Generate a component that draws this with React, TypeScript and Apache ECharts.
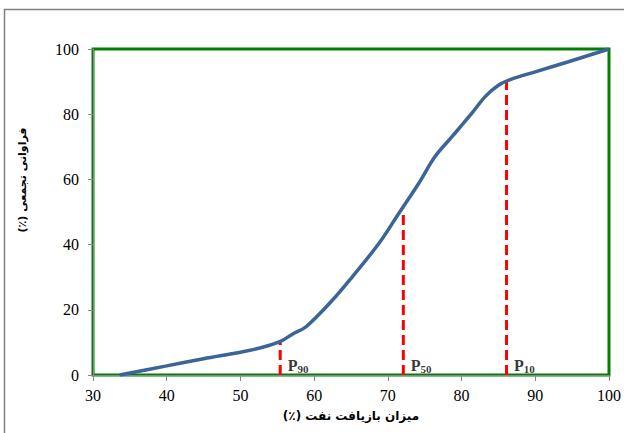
import React, { useEffect, useRef } from "react";
import * as echarts from "echarts";

const recoveryX = [33.6, 40, 45, 50, 53, 55.5, 57.1, 58.9, 62.5, 65.2, 68.8, 71.5, 74.2, 76.4, 78.7, 81.4, 83.2, 85.0, 86.6, 90, 94.5, 100];
const cumFreqY = [0, 2.8, 5, 7, 8.5, 10.4, 12.6, 14.8, 23, 30.2, 40.4, 49.6, 58.8, 67, 73.1, 80.3, 85.4, 88.9, 90.6, 93, 96.1, 100];

const pNames = ["90", "50", "10"];
const pX = [55.4, 72.1, 86.1];
const pTop = [9.9, 49.6, 90.2];

const xTicks = { min: 30, max: 100, interval: 10 };
const yTicks = { min: 0, max: 100, interval: 20 };

const xName = "\u200Fمیزان بازیافت نفت (٪)\u200F";
const yName = "\u200Fفراوانی تجمعی (٪)\u200F";

export default function App() {
  const ref = useRef<HTMLDivElement>(null);
  useEffect(() => {
    if (!ref.current) return;
    const chart = echarts.init(ref.current, null, { renderer: "svg" });
    const curve = recoveryX.map((x, i) => [x, cumFreqY[i]]);
    const dashSeries = pX.map((x, i) => ({
      type: "line",
      data: [[x, 0], [x, pTop[i]]],
      symbol: "none",
      silent: true,
      z: 3,
      lineStyle: { color: "#ff0000", width: 3, type: [10, 5] },
    }));
    chart.setOption({
      animation: false,
      backgroundColor: "#ffffff",
      grid: {
        left: 93,
        top: 49,
        right: 13,
        bottom: 58,
        show: true,
        borderColor: "#008000",
        borderWidth: 3,
        backgroundColor: "transparent",
      },
      xAxis: {
        type: "value",
        min: xTicks.min,
        max: xTicks.max,
        interval: xTicks.interval,
        name: xName,
        nameLocation: "middle",
        nameGap: 35,
        nameTextStyle: { fontFamily: "DejaVu Sans", fontWeight: "bold", fontSize: 12, color: "#000" },
        splitLine: { show: false },
        axisLine: { show: true, lineStyle: { color: "#868686", width: 1 } },
        axisTick: { show: true, length: 6, lineStyle: { color: "#868686" } },
        axisLabel: { fontFamily: "Liberation Serif", fontSize: 16, color: "#000", margin: 12 },
      },
      yAxis: {
        type: "value",
        min: yTicks.min,
        max: yTicks.max,
        interval: yTicks.interval,
        splitLine: { show: false },
        axisLine: { show: true, lineStyle: { color: "#868686", width: 1 } },
        axisTick: { show: true, length: 5, lineStyle: { color: "#868686" } },
        axisLabel: { fontFamily: "Liberation Serif", fontSize: 16, color: "#000", margin: 14 },
      },
      graphic: [
        {
          type: "rect",
          shape: { x: 4.5, y: 9.5, width: 700, height: 500 },
          style: { fill: "none", stroke: "#808080", lineWidth: 1.5 },
          silent: true,
        },
        {
          type: "text",
          x: 22,
          y: 180,
          rotation: Math.PI / 2,
          style: {
            text: yName,
            fontFamily: "DejaVu Sans",
            fontWeight: "bold",
            fontSize: 11,
            fill: "#000",
            align: "center",
            verticalAlign: "middle",
          },
        },
      ],
      series: [
        {
          type: "line",
          data: curve,
          smooth: 0.35,
          symbol: "none",
          z: 4,
          lineStyle: { color: "#3b6498", width: 3.5 },
        },
        ...dashSeries,
        {
          type: "scatter",
          data: pX.map((x, i) => ({ value: [x, 0], name: pNames[i] })),
          symbolSize: 1,
          itemStyle: { color: "transparent" },
          silent: true,
          z: 5,
          label: {
            show: true,
            position: "right",
            distance: 0,
            offset: [7, -10],
            formatter: (p: any) => `{p|P}{s|${p.name}}`,
            rich: {
              p: { fontFamily: "Liberation Serif", fontWeight: "bold", fontSize: 16, color: "#000", verticalAlign: "bottom" },
              s: { fontFamily: "Liberation Serif", fontWeight: "bold", fontSize: 11, color: "#000", verticalAlign: "bottom", padding: [0, 0, -1, 0] },
            },
          },
        },
      ],
    });
    return () => chart.dispose();
  }, []);
  return <div ref={ref} style={{ position: "absolute", left: 0, top: 0, width: 624, height: 433 }} />;
}
